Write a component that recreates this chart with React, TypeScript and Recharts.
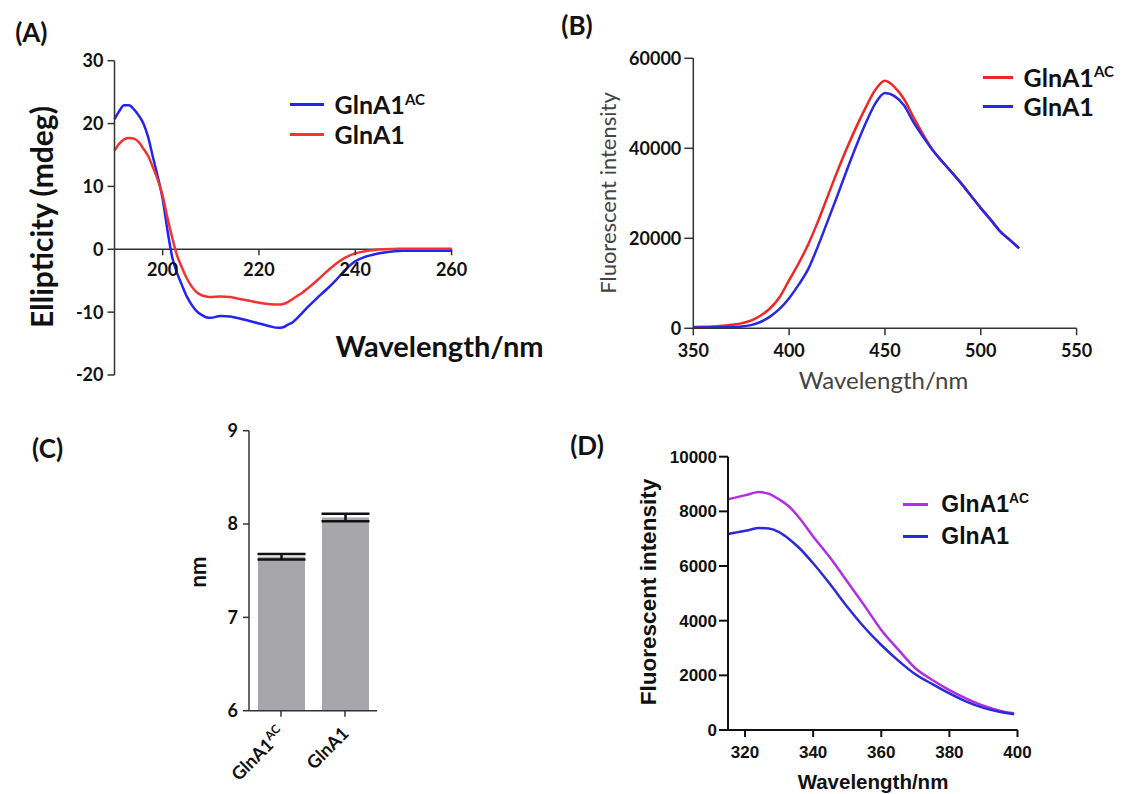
import React from "react";
import {
  LineChart,
  Line,
  BarChart,
  Bar,
  ErrorBar,
  XAxis,
  YAxis,
  ReferenceLine,
  Legend,
} from "recharts";

// (A) CD spectra, ellipticity (mdeg)
const cdWave = [190, 191, 192, 193, 194, 195, 196, 197, 198, 199, 200, 201, 202, 203, 204, 205, 206, 207, 208, 209, 210, 212, 214, 216, 218, 220, 222, 224, 225, 226, 227, 228, 229, 230, 232, 234, 236, 238, 240, 242, 244, 246, 248, 250, 255, 260];
const cdGlnA1AC = [20.7, 22, 22.9, 22.9, 22.3, 21.3, 20, 17.8, 14.6, 11.5, 8, 3, -1.3, -3.8, -5.7, -7.5, -8.8, -9.8, -10.4, -10.8, -10.9, -10.6, -10.7, -11, -11.4, -11.8, -12.2, -12.5, -12.4, -12, -11.6, -10.9, -10.1, -9.3, -7.8, -6.4, -4.9, -3.2, -1.9, -1.2, -0.8, -0.5, -0.3, -0.25, -0.25, -0.25];
const cdGlnA1 = [15.7, 16.8, 17.5, 17.7, 17.6, 17.1, 16, 14.8, 13, 11, 8.5, 5, 1.8, -1, -2.9, -4.6, -5.9, -6.8, -7.3, -7.5, -7.6, -7.5, -7.6, -7.9, -8.2, -8.5, -8.7, -8.8, -8.7, -8.4, -7.9, -7.4, -6.9, -6.3, -5, -3.6, -2.3, -1.3, -0.65, -0.3, -0.1, 0, 0.05, 0.1, 0.1, 0.1];
const cdTicksX = [200, 220, 240, 260];
const cdTicksY = [-20, -10, 0, 10, 20, 30];

// (B) fluorescence, 350-520 nm
const flWaveB = [350, 355, 360, 365, 370, 375, 380, 385, 390, 395, 400, 405, 410, 415, 420, 425, 430, 435, 440, 445, 450, 455, 460, 465, 470, 475, 480, 485, 490, 495, 500, 505, 510, 515, 520];
const flB_AC = [300, 320, 380, 550, 800, 1100, 1700, 2800, 4400, 6900, 10700, 14450, 18700, 23700, 29200, 34700, 39900, 44700, 49100, 53000, 55000, 53600, 50900, 46800, 43000, 39600, 37000, 34600, 32100, 29400, 26700, 24200, 21600, 19700, 17800];
const flB_WT = [200, 200, 220, 250, 300, 400, 700, 1400, 2600, 4300, 6700, 9700, 13200, 18200, 23700, 29300, 35000, 40500, 45600, 50000, 52300, 51600, 49500, 45700, 42500, 39500, 37000, 34600, 32100, 29400, 26700, 24200, 21600, 19700, 17800];
const flTicksXB = [350, 400, 450, 500, 550];
const flTicksYB = [0, 20000, 40000, 60000];

// (C) size (nm)
const sizeLabels = ["GlnA1^AC", "GlnA1"];
const sizeMeans = [7.65, 8.07];
const sizeErrs = [0.03, 0.04];
const sizeTicksY = [6, 7, 8, 9];

// (D) fluorescence, 315-400 nm
const flWaveD = [315, 318, 321, 324, 327, 330, 333, 336, 340, 345, 350, 355, 360, 365, 370, 375, 380, 385, 390, 395, 399];
const flD_AC = [8440, 8530, 8620, 8710, 8640, 8440, 8170, 7750, 7080, 6300, 5430, 4560, 3660, 2940, 2260, 1830, 1460, 1150, 890, 700, 610];
const flD_WT = [7170, 7240, 7310, 7390, 7370, 7240, 6980, 6650, 6100, 5330, 4510, 3760, 3110, 2540, 2040, 1680, 1340, 1040, 810, 660, 580];
const flTicksXD = [320, 340, 360, 380, 400];
const flTicksYD = [0, 2000, 4000, 6000, 8000, 10000];

const NAME_AC = "GlnA1^AC";
const NAME_WT = "GlnA1";

const LATO = "Lato, 'Open Sans', sans-serif";
const ARIAL = "'Liberation Sans', Arial, sans-serif";

const cdData = cdWave.map((w, i) => ({ w, ac: cdGlnA1AC[i], wt: cdGlnA1[i] }));
const flDataB = flWaveB.map((w, i) => ({ w, ac: flB_AC[i], wt: flB_WT[i] }));
const sizeData = sizeLabels.map((name, i) => ({ name, mean: sizeMeans[i], err: sizeErrs[i] }));
const flDataD = flWaveD.map((w, i) => ({ w, ac: flD_AC[i], wt: flD_WT[i] }));

function SupText({ text }: { text: string }) {
  const [base, sup] = text.split("^");
  return (
    <>
      {base}
      {sup && (
        <span style={{ fontSize: "0.6em", position: "relative", top: "-0.65em" }}>{sup}</span>
      )}
    </>
  );
}

function makeLegend(opts: { font: string; size: number; lineW: number; rowH: number; gap: number }) {
  const order = [NAME_AC, NAME_WT];
  return (props: any) => {
    const items = [...(props.payload || [])].sort(
      (a: any, b: any) => order.indexOf(a.value) - order.indexOf(b.value)
    );
    return (
      <div>
        {items.map((it: any) => (
          <div key={it.value} style={{ display: "flex", alignItems: "center", height: opts.rowH }}>
            <span
              style={{
                display: "inline-block",
                width: opts.lineW,
                height: 3,
                background: it.color,
                marginRight: opts.gap,
              }}
            />
            <span
              style={{
                fontFamily: opts.font,
                fontWeight: 700,
                fontSize: opts.size,
                lineHeight: 1,
                color: "#111",
                whiteSpace: "nowrap",
              }}
            >
              <SupText text={it.value} />
            </span>
          </div>
        ))}
      </div>
    );
  };
}

// panel A: x axis sits on y = 0, so ticks are moved up from the plot bottom
const CD_H = 400;
const CD_MARGIN = { top: 60.7, right: 108.4, bottom: 5, left: 54.5 };
const CD_XAXIS_H = 20;
const CD_PLOT_H = CD_H - CD_MARGIN.top - CD_MARGIN.bottom - CD_XAXIS_H;
const cdYMin = cdTicksY[0];
const cdYMax = cdTicksY[cdTicksY.length - 1];

function CdTick(props: any) {
  const { x, y, payload } = props;
  const zeroY = y - (CD_PLOT_H * (0 - cdYMin)) / (cdYMax - cdYMin);
  return (
    <g>
      <line x1={x} x2={x} y1={zeroY} y2={zeroY + 6} stroke="#333" strokeWidth={1.5} />
      <text
        x={x}
        y={zeroY + 27}
        textAnchor="middle"
        fontFamily={LATO}
        fontWeight={700}
        fontSize={18}
        fill="#111"
      >
        {payload.value}
      </text>
    </g>
  );
}

function SizeTick(props: any) {
  const { x, y, payload } = props;
  const [base, sup] = String(payload.value).split("^");
  return (
    <g transform={`translate(${x + 5},${y + 18})`}>
      <text
        transform="rotate(-45)"
        textAnchor="end"
        fontFamily={LATO}
        fontWeight={700}
        fontSize={18}
        fill="#111"
      >
        {base}
        {sup && (
          <tspan fontSize={12} dy={-7}>
            {sup}
          </tspan>
        )}
      </text>
    </g>
  );
}

function Title({
  text,
  cx,
  cy,
  size,
  font = LATO,
  weight = 700,
  color = "#111",
  rotate = false,
}: {
  text: string;
  cx: number;
  cy: number;
  size: number;
  font?: string;
  weight?: number;
  color?: string;
  rotate?: boolean;
}) {
  return (
    <div
      style={{
        position: "absolute",
        left: cx,
        top: cy,
        transform: `translate(-50%, -50%)${rotate ? " rotate(-90deg)" : ""}`,
        fontFamily: font,
        fontWeight: weight,
        fontSize: size,
        color,
        lineHeight: 1,
        whiteSpace: "nowrap",
      }}
    >
      {text}
    </div>
  );
}

const axisA = { stroke: "#333", strokeWidth: 1.5 };
const axisD = { stroke: "#111", strokeWidth: 2 };
const tickLato = { fontFamily: LATO, fontWeight: 700, fontSize: 18, fill: "#111" };
const tickArial = { fontFamily: ARIAL, fontWeight: 700, fontSize: 17, fill: "#111" };

export default function App() {
  return (
    <div
      style={{
        position: "absolute",
        left: 0,
        top: 0,
        width: 1123,
        height: 794,
        background: "#fff",
        overflow: "hidden",
      }}
    >
      {/* (A) CD */}
      <div style={{ position: "absolute", left: 0, top: 0 }}>
        <LineChart width={560} height={CD_H} data={cdData} margin={CD_MARGIN}>
          <XAxis
            dataKey="w"
            type="number"
            domain={[190, 260]}
            ticks={cdTicksX}
            height={CD_XAXIS_H}
            axisLine={false}
            tickLine={false}
            tickSize={0}
            tickMargin={0}
            tick={<CdTick />}
            interval={0}
          />
          <YAxis
            type="number"
            domain={[cdYMin, cdYMax]}
            ticks={cdTicksY}
            width={60}
            axisLine={axisA}
            tickLine={axisA}
            tickSize={7}
            tickMargin={4}
            interval={0}
            tick={tickLato}
          />
          <ReferenceLine y={0} stroke="#333" strokeWidth={1.5} />
          <Line dataKey="ac" name={NAME_AC} stroke="#2323f5" strokeWidth={2.5} dot={false} type="monotone" isAnimationActive={false} />
          <Line dataKey="wt" name={NAME_WT} stroke="#f53232" strokeWidth={2.5} dot={false} type="monotone" isAnimationActive={false} />
          <Legend
            layout="vertical"
            align="center"
            verticalAlign="middle"
            wrapperStyle={{ left: 289.6, top: 90.2, width: "auto", height: "auto" }}
            content={makeLegend({ font: LATO, size: 25, lineW: 34, rowH: 29.6, gap: 11 })}
          />
        </LineChart>
      </div>

      {/* (B) fluorescence */}
      <div style={{ position: "absolute", left: 560, top: 0 }}>
        <LineChart width={563} height={400} data={flDataB} margin={{ top: 58.3, right: 46.4, bottom: 41.7, left: 53.3 }}>
          <XAxis
            dataKey="w"
            type="number"
            domain={[350, 550]}
            ticks={flTicksXB}
            height={30}
            axisLine={axisA}
            tickLine={axisA}
            tickSize={7}
            tickMargin={9}
            interval={0}
            tick={tickLato}
          />
          <YAxis
            type="number"
            domain={[0, 60000]}
            ticks={flTicksYB}
            width={80}
            axisLine={axisA}
            tickLine={axisA}
            tickSize={9}
            tickMargin={3}
            interval={0}
            tick={tickLato}
          />
          <Line dataKey="ac" name={NAME_AC} stroke="#ee2626" strokeWidth={2.5} dot={false} type="monotone" isAnimationActive={false} />
          <Line dataKey="wt" name={NAME_WT} stroke="#2828e6" strokeWidth={2.5} dot={false} type="monotone" isAnimationActive={false} />
          <Legend
            layout="vertical"
            align="center"
            verticalAlign="middle"
            wrapperStyle={{ left: 422.6, top: 62.6, width: "auto", height: "auto" }}
            content={makeLegend({ font: LATO, size: 25, lineW: 30, rowH: 29.4, gap: 11 })}
          />
        </LineChart>
      </div>

      {/* (C) size bars */}
      <div style={{ position: "absolute", left: 0, top: 400 }}>
        <BarChart width={560} height={394} data={sizeData} margin={{ top: 30.7, right: 183, bottom: 13.3, left: 189 }}>
          <XAxis
            dataKey="name"
            height={70}
            axisLine={axisA}
            tickLine={axisA}
            tickSize={6}
            tickMargin={0}
            interval={0}
            tick={<SizeTick />}
          />
          <YAxis
            type="number"
            domain={[6, 9]}
            ticks={sizeTicksY}
            width={60}
            axisLine={axisA}
            tickLine={axisA}
            tickSize={6}
            tickMargin={5}
            interval={0}
            tick={tickLato}
          />
          <Bar dataKey="mean" fill="#a7a7ab" barSize={47} isAnimationActive={false}>
            <ErrorBar dataKey="err" width={24} stroke="#111" strokeWidth={2.5} direction="y" />
          </Bar>
        </BarChart>
      </div>

      {/* (D) fluorescence */}
      <div style={{ position: "absolute", left: 560, top: 400 }}>
        <LineChart width={563} height={394} data={flDataD} margin={{ top: 56.7, right: 105.5, bottom: 34, left: 88 }}>
          <XAxis
            dataKey="w"
            type="number"
            domain={[315, 400]}
            ticks={flTicksXD}
            height={30}
            axisLine={axisD}
            tickLine={axisD}
            tickSize={7}
            tickMargin={9}
            interval={0}
            tick={tickArial}
          />
          <YAxis
            type="number"
            domain={[0, 10000]}
            ticks={flTicksYD}
            width={80}
            axisLine={axisD}
            tickLine={axisD}
            tickSize={9}
            tickMargin={2}
            interval={0}
            tick={tickArial}
          />
          <Line dataKey="ac" name={NAME_AC} stroke="#b22ee6" strokeWidth={2.5} dot={false} type="monotone" isAnimationActive={false} />
          <Line dataKey="wt" name={NAME_WT} stroke="#2a2ad8" strokeWidth={2.5} dot={false} type="monotone" isAnimationActive={false} />
          <Legend
            layout="vertical"
            align="center"
            verticalAlign="middle"
            wrapperStyle={{ left: 343.3, top: 87.7, width: "auto", height: "auto" }}
            content={makeLegend({ font: ARIAL, size: 23, lineW: 25, rowH: 32.7, gap: 13 })}
          />
        </LineChart>
      </div>

      {/* panel letters and axis titles */}
      <Title text="(A)" cx={31.3} cy={31.5} size={26} />
      <Title text="(B)" cx={577} cy={25} size={26} />
      <Title text="(C)" cx={47.6} cy={447.5} size={26} />
      <Title text="(D)" cx={587} cy={445} size={26} />

      <Title text="Ellipticity (mdeg)" cx={40.5} cy={217} size={30} rotate />
      <Title text="Wavelength/nm" cx={439.5} cy={345} size={29} />

      <Title text="Fluorescent intensity" cx={607.5} cy={192.5} size={22} weight={400} color="#444" rotate />
      <Title text="Wavelength/nm" cx={883.5} cy={380} size={24} weight={400} color="#444" />

      <Title text="nm" cx={198} cy={571.7} size={22} rotate />

      <Title text="Fluorescent intensity" cx={649} cy={591.7} size={22.5} font={ARIAL} rotate />
      <Title text="Wavelength/nm" cx={873} cy={781.7} size={20.5} font={ARIAL} />
    </div>
  );
}
